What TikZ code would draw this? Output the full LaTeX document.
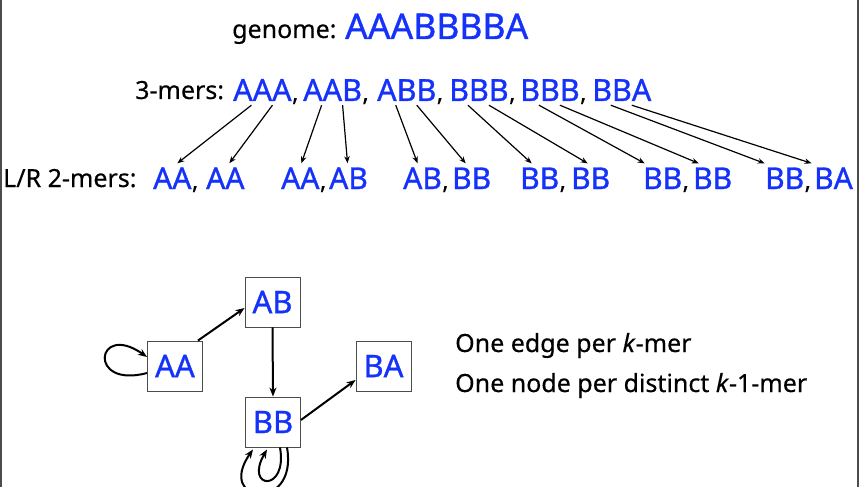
\documentclass[tikz,border=0pt]{standalone}
\usepackage{fontspec}
\setmainfont{Noto Sans}[FakeBold=0.4]
\newfontfamily\merfont{Noto Sans}[FakeBold=1]
\usetikzlibrary{arrows.meta}
\definecolor{merblue}{RGB}{20,50,250}
\tikzset{lbl/.style={anchor=base west,inner sep=0pt,font=\fontsize{25}{27}\selectfont},
  kmer/.style={anchor=base west,inner xsep=0pt,inner ysep=4pt,text=merblue,font=\merfont\fontsize{30.5}{33}\selectfont},
  comma/.style={anchor=base west,inner sep=0pt,font=\fontsize{24}{28}\selectfont},
  gnode/.style={draw=black!70,fill=white,line width=.9pt,minimum width=55pt,minimum height=50pt,
    inner sep=0pt,text=merblue,font=\merfont\fontsize{31}{33}\selectfont},
  arrow/.style={-{Stealth[length=7pt,width=5.5pt]},line width=1.2pt},
  garrow/.style={-{Stealth[length=9pt,width=7pt]},line width=2pt}}

\begin{document}
\begin{tikzpicture}[x=1pt,y=-1pt]
  \path[use as bounding box] (0,0) rectangle (860,487);
  \clip (0,0) rectangle (860,487);
  \draw[black!70,line width=1.5pt] (1,0)--(1,487) (858,0)--(858,487);
  % genome
  \node[lbl] (glbl) at (232,38) {genome:};
  \node[kmer,font=\merfont\fontsize{35.5}{37}\selectfont] (genome) at (345,39) {AAABBBBA};
  % 3-mers
  \node[lbl] (mlbl) at (135,99) {3-mers:};
  \foreach \t/\x [count=\i] in {AAA/233,AAB/303,ABB/377,BBB/449,BBB/520,BBA/592}{
    \node[kmer] (m\i) at (\x,101) {\t};
    \ifnum\i<6 \node[comma] at (m\i.base east) {,};\fi}
  % L/R 2-mers
  \node[lbl] (dlbl) at (3,187) {L/R 2-mers:};
  \foreach \t/\x [count=\i] in {AA/153,AA/206,AA/281,AB/329,AB/403,BB/452,BB/520,BB/571,BB/643,BB/693,BB/765,BA/814}{
    \node[kmer,font=\merfont\fontsize{30}{33}\selectfont] (d\i) at (\x,189) {\t};
    \ifodd\i \node[comma] at (d\i.base east) {,};\fi}
  \foreach \i/\a/\b in {1/5/4,2/1/-1,3/-5/-6,4/-8/-3,5/-18/-14,6/-20/-22}{
    \pgfmathtruncatemacro\l{2*\i-1}
    \pgfmathtruncatemacro\r{2*\i}
    \draw[arrow] ([xshift=-11pt]m\i.south) -- ([xshift=\a pt]d\l.north);
    \draw[arrow] ([xshift=10pt]m\i.south) -- ([xshift=\b pt]d\r.north);}
  % de Bruijn graph
  \node[gnode] (AB) at (272.5,302) {AB};
  \node[gnode] (AA) at (175,366) {AA};
  \node[gnode] (BA) at (383.5,366) {BA};
  \node[gnode] (BB) at (273,422) {BB};
  \draw[garrow] ([xshift=-5pt]AA.north east) -- ([yshift=-6pt]AB.west);
  \draw[garrow] (AB.south) -- (BB.north);
  \draw[garrow] ([yshift=2pt]BB.east) -- ([yshift=-14pt]BA.west);
  \draw[garrow] ([yshift=-7pt]AA.west) to[out=195,in=145,looseness=10] ([yshift=9pt]AA.west);
  \draw[garrow] ([xshift=14pt]BB.south) to[out=-80,in=-125,looseness=5] ([xshift=-20pt,yshift=-2pt]BB.south);
  \draw[garrow] ([xshift=7pt]BB.south) to[out=-80,in=-120,looseness=9] ([xshift=-6pt,yshift=-2pt]BB.south);
  % notes
  \node[lbl] (note1) at (455,352) {One edge per \textit{k}-mer};
  \node[lbl] (note2) at (455,392) {One node per distinct \textit{k}-1-mer};
\end{tikzpicture}
\end{document}
